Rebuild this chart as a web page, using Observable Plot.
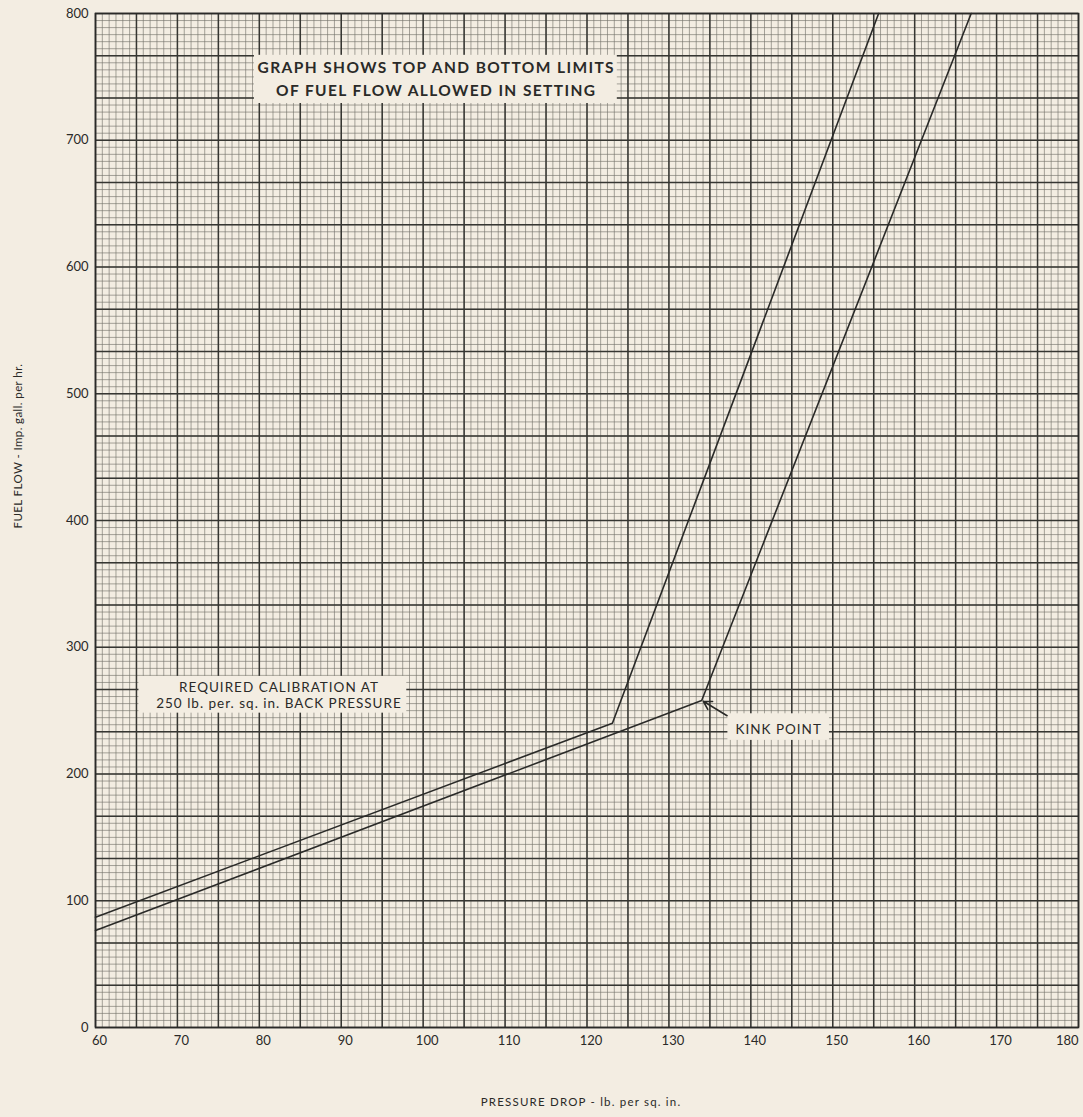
<!DOCTYPE html>
<html>
<head>
<meta charset="utf-8">
<script src="https://cdn.jsdelivr.net/npm/d3@7"></script>
<script src="https://cdn.jsdelivr.net/npm/@observablehq/plot@0.6"></script>
<style>
  html, body { margin: 0; padding: 0; background: #f3ede2; }
  #chart svg { display: block; }
</style>
</head>
<body>
<div id="chart"></div>
<script>
// ---- data ----
const upperX = [60, 123.1, 155.6];
const upperY = [87, 240, 800];
const lowerX = [60, 134.0, 166.9];
const lowerY = [76.5, 258, 800];

const xTicks = [60, 70, 80, 90, 100, 110, 120, 130, 140, 150, 160, 170];
const xLastTick = [180];
const yTicks = [0, 100, 200, 300, 400, 500, 600, 700, 800];

// annotation boxes (paper-coloured patches behind the notes)
const boxX1 = [79.4, 65.3, 137.2];
const boxX2 = [123.7, 98.0, 149.6];
const boxY1 = [729, 248, 226.5];
const boxY2 = [767, 277, 247.5];

// annotation texts
const noteText = [
  "GRAPH SHOWS TOP AND BOTTOM LIMITS",
  "OF FUEL FLOW ALLOWED IN SETTING",
  "REQUIRED CALIBRATION AT",
  "250 lb. per. sq. in. BACK PRESSURE",
  "KINK POINT"
];
const noteX = [101.6, 101.6, 82.4, 82.4, 143.4];
const noteY = [756.8, 738.6, 268.3, 255.7, 235.2];
const noteSize = [15.5, 15.5, 13.5, 13.5, 13.5];
const noteWeight = ["bold", "bold", "normal", "normal", "normal"];
const noteSpacing = [1.4, 1.4, 1.0, 1.0, 1.0];

// kink-point leader arrow
const arrowFrom = [137.1, 246.0];
const arrowTo = [134.2, 257.4];

const xLabel = "PRESSURE DROP - lb. per sq. in.";
const yLabel = "FUEL FLOW - Imp. gall. per hr.";

// ---- graph-paper grid positions ----
const xMinor = d3.range(0, 145).map(i => 60 + i * 5 / 6).filter(v => v <= 180.001);
const xMajor = d3.range(0, 25).map(i => 60 + i * 5);
const yMinor = d3.range(0, 145).map(i => i * 100 / 18).filter(v => v <= 800.001);
const yMajor = d3.range(0, 25).map(i => i * 100 / 3);

const paper = "#f3ede2";
const ink = "#2a2a28";
const font = "Lato, 'Open Sans', sans-serif";

const upper = upperX.map((x, i) => ({x, y: upperY[i]}));
const lower = lowerX.map((x, i) => ({x, y: lowerY[i]}));
const boxes = boxX1.map((x1, i) => ({x1, x2: boxX2[i], y1: boxY1[i], y2: boxY2[i]}));
const notes = noteText.map((t, i) => ({t, x: noteX[i], y: noteY[i], s: noteSize[i], w: noteWeight[i]}));

const chart = Plot.plot({
  width: 1083,
  height: 1117,
  marginLeft: 95,
  marginRight: 5,
  marginTop: 13,
  marginBottom: 90,
  style: {background: paper, fontFamily: font, color: ink},
  x: {domain: [60, 180]},
  y: {domain: [0, 800]},
  marks: [
    Plot.ruleX(xMinor, {stroke: "#75736b", strokeWidth: 0.9, strokeOpacity: 0.7}),
    Plot.ruleY(yMinor, {stroke: "#75736b", strokeWidth: 0.9, strokeOpacity: 0.7}),
    Plot.ruleX(xMajor, {stroke: "#363632", strokeWidth: 1.5}),
    Plot.ruleY(yMajor, {stroke: "#363632", strokeWidth: 1.5}),
    Plot.rect(boxes, {x1: "x1", x2: "x2", y1: "y1", y2: "y2", fill: paper}),
    Plot.frame({stroke: ink, strokeWidth: 1.6}),
    Plot.line(upper, {x: "x", y: "y", stroke: ink, strokeWidth: 1.6}),
    Plot.line(lower, {x: "x", y: "y", stroke: ink, strokeWidth: 1.6}),
    Plot.arrow([0], {
      x1: () => arrowFrom[0], y1: () => arrowFrom[1],
      x2: () => arrowTo[0], y2: () => arrowTo[1],
      stroke: ink, strokeWidth: 1.6, headLength: 9
    }),
    ...notes.map(n => Plot.text([n], {
      x: "x", y: "y", text: "t", fontSize: n.s, fontWeight: n.w,
      fill: ink, textAnchor: "middle", fontFamily: font
    })),
    Plot.axisX({ticks: xTicks, tickSize: 0, tickPadding: 8, label: null, fontSize: 13, dx: 4, tickFormat: d => `${d}`}),
    Plot.axisX({ticks: xLastTick, tickSize: 0, tickPadding: 8, label: null, fontSize: 13, textAnchor: "end", dx: 0, tickFormat: d => `${d}`}),
    Plot.axisY({ticks: yTicks, tickSize: 0, tickPadding: 7, label: null, fontSize: 13, tickFormat: d => `${d}`}),
    Plot.text([xLabel], {frameAnchor: "bottom", dy: 78, dx: -6, fontSize: 11.5, fill: ink}),
    Plot.text([yLabel], {frameAnchor: "left", dx: -77, dy: 8, rotate: -90, fontSize: 11.5, fill: ink})
  ]
});
document.getElementById("chart").appendChild(chart);

// letter spacing of the printed labels
const spacing = new Map(noteText.map((t, i) => [t, noteSpacing[i]]));
spacing.set(xLabel, 1.2);
spacing.set(yLabel, 0.4);
d3.select(chart).selectAll("text").each(function() {
  const s = spacing.get(this.textContent);
  if (s != null) this.setAttribute("letter-spacing", s);
});
</script>
</body>
</html>
